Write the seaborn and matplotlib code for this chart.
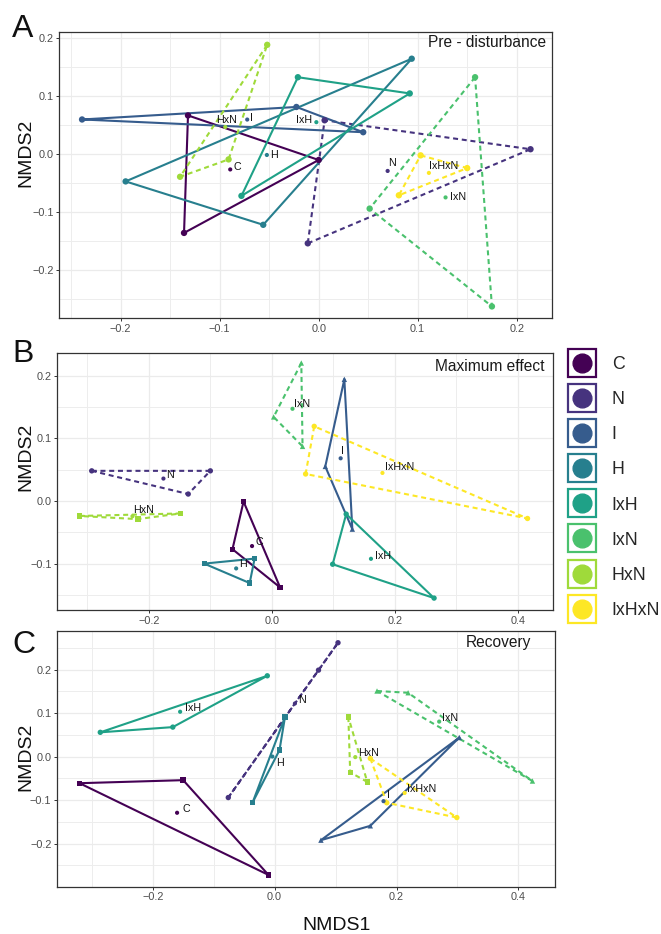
import pandas as pd
import seaborn as sns
from matplotlib import pyplot as plt
from matplotlib.lines import Line2D
from matplotlib.legend_handler import HandlerTuple
from matplotlib.ticker import FixedLocator, FuncFormatter

groups = ["C", "N", "I", "H", "IxH", "IxN", "HxN", "IxHxN"]
colours = ["#440154", "#46337E", "#365C8D", "#277F8E", "#1FA187", "#4AC16D", "#9FDA3A", "#FDE725"]
dashed_groups = ["N", "IxN", "HxN", "IxHxN"]
shapes_bc = {"C": "s", "H": "s", "HxN": "s", "I": "^", "IxN": "^",
             "N": "o", "IxH": "o", "IxHxN": "o"}

# A - pre-disturbance (3 replicates per treatment)
pre_x = {"C": [-0.132, -0.136, 0.000], "N": [-0.011, 0.214, 0.006],
         "I": [-0.239, -0.0225, 0.045], "H": [-0.195, -0.056, 0.094],
         "IxH": [-0.021, -0.078, 0.092], "IxN": [0.158, 0.0515, 0.175],
         "HxN": [-0.052, -0.140, -0.091], "IxHxN": [0.103, 0.150, 0.081]}
pre_y = {"C": [0.067, -0.136, -0.010], "N": [-0.154, 0.0086, 0.0586],
         "I": [0.060, 0.0816, 0.038], "H": [-0.047, -0.122, 0.165],
         "IxH": [0.133, -0.072, 0.105], "IxN": [0.133, -0.094, -0.263],
         "HxN": [0.189, -0.039, -0.009], "IxHxN": [-0.002, -0.024, -0.071]}

# B - maximum effect
max_x = {"C": [-0.046, -0.064, 0.0135], "N": [-0.293, -0.100, -0.136],
         "I": [0.118, 0.087, 0.131], "H": [-0.110, -0.028, -0.036],
         "IxH": [0.121, 0.099, 0.264], "IxN": [0.048, 0.003, 0.050],
         "HxN": [-0.313, -0.149, -0.218], "IxHxN": [0.069, 0.055, 0.416]}
max_y = {"C": [-0.001, -0.077, -0.138], "N": [0.048, 0.048, 0.011],
         "I": [0.194, 0.055, -0.045], "H": [-0.100, -0.092, -0.131],
         "IxH": [-0.021, -0.101, -0.155], "IxN": [0.220, 0.134, 0.087],
         "HxN": [-0.024, -0.020, -0.029], "IxHxN": [0.119, 0.043, -0.028]}

# C - recovery
rec_x = {"C": [-0.320, -0.150, -0.010], "N": [-0.076, 0.104, 0.072],
         "I": [0.303, 0.076, 0.157], "H": [0.017, 0.008, -0.036],
         "IxH": [-0.286, -0.167, -0.012], "IxN": [0.168, 0.219, 0.423],
         "HxN": [0.121, 0.124, 0.152], "IxHxN": [0.157, 0.184, 0.299]}
rec_y = {"C": [-0.061, -0.054, -0.272], "N": [-0.094, 0.262, 0.199],
         "I": [0.044, -0.192, -0.159], "H": [0.091, 0.015, -0.105],
         "IxH": [0.056, 0.068, 0.186], "IxN": [0.151, 0.147, -0.056],
         "HxN": [0.091, -0.036, -0.058], "IxHxN": [-0.004, -0.106, -0.140]}

pal = dict(zip(groups, colours))
dash_map = {g: ((2.4, 1.8) if g in dashed_groups else "") for g in groups}

sns.set_style("ticks")
plt.rcParams["font.family"] = ["Liberation Sans", "DejaVu Sans"]

W, H = 661, 934


def px_rect(l, t, r, b):
    return [l / W, 1 - b / H, (r - l) / W, (b - t) / H]


def make_df(xs, ys):
    rows = []
    for g in groups:
        for x, y in zip(xs[g], ys[g]):
            rows.append((g, x, y))
    return pd.DataFrame(rows, columns=["group", "NMDS1", "NMDS2"])


# label nudges in pixels (dx, dy, ha), default right of the centroid
lab_default = (3, 3, "left")
panels = [
    dict(letter="A", title="Pre - disturbance", xs=pre_x, ys=pre_y,
         rect=(59.3, 31.5, 552.3, 318), xlim=(-0.262, 0.236), ylim=(-0.283, 0.212),
         xmaj=[-0.2, -0.1, 0.0, 0.1, 0.2], xmin=[-0.25, -0.15, -0.05, 0.05, 0.15],
         ymaj=[-0.2, -0.1, 0.0, 0.1, 0.2], ymin=[-0.25, -0.15, -0.05, 0.05, 0.15],
         tpos=(0.867, 0.962), letter_y=37, ylab_y=152.5, shapes=None, vs=21,
         nudge={"C": (3, 2, "left"), "I": (3, 2, "left"), "H": (3, 0, "left"),
                "HxN": (1, 7, "center"), "IxH": (-4, 2, "right"), "N": (0, 8, "left"),
                "IxHxN": (0, 7, "left"), "IxN": (4, 0, "left")}),
    dict(letter="B", title="Maximum effect", xs=max_x, ys=max_y,
         rect=(57.3, 353, 552.7, 610), xlim=(-0.349, 0.457), ylim=(-0.174, 0.236),
         xmaj=[-0.2, 0.0, 0.2, 0.4], xmin=[-0.3, -0.1, 0.1, 0.3],
         ymaj=[-0.1, 0.0, 0.1, 0.2], ymin=[-0.15, -0.05, 0.05, 0.15],
         tpos=(0.873, 0.946), letter_y=362, ylab_y=456.7, shapes=shapes_bc, vs=15,
         nudge={"N": (3, 4, "left"), "HxN": (1, 6, "left"), "C": (3, 4, "left"),
                "H": (3, 4, "left"), "IxN": (1, 5, "left"), "I": (0, 7, "left"),
                "IxHxN": (3, 6, "left"), "IxH": (4, 3, "left")}),
    dict(letter="C", title="Recovery", xs=rec_x, ys=rec_y,
         rect=(57, 631, 555, 886.7), xlim=(-0.357, 0.46), ylim=(-0.299, 0.289),
         xmaj=[-0.2, 0.0, 0.2, 0.4], xmin=[-0.3, -0.1, 0.1, 0.3],
         ymaj=[-0.2, -0.1, 0.0, 0.1, 0.2], ymin=[-0.25, -0.15, -0.05, 0.05, 0.15, 0.25],
         tpos=(0.887, 0.954), letter_y=653, ylab_y=757, shapes=shapes_bc, vs=15,
         nudge={"IxH": (5, 4, "left"), "C": (5, 4, "left"), "H": (4, -6, "left"),
                "N": (3, 3, "left"), "IxN": (3, 4, "left"), "HxN": (3, 4, "left"),
                "I": (3, 6, "left"), "IxHxN": (2, 4, "left")}),
]

fig = plt.figure(figsize=(W / 100, H / 100), dpi=100)
fmt = FuncFormatter(lambda v, p: f"{v:.1f}".replace("-", "\u2212"))

for p in panels:
    ax = fig.add_axes(px_rect(*p["rect"]))
    df = make_df(p["xs"], p["ys"])
    cent = df.groupby("group", sort=False)[["NMDS1", "NMDS2"]].mean().reset_index()

    # closed hulls
    closed = pd.concat([pd.concat([g, g.iloc[:1]]) for _, g in df.groupby("group", sort=False)])
    sns.lineplot(data=closed, x="NMDS1", y="NMDS2", hue="group", style="group",
                 palette=pal, dashes=dash_map, sort=False, estimator=None,
                 linewidth=1.5, legend=False, ax=ax)

    markers = p["shapes"] if p["shapes"] else {g: "o" for g in groups}
    sns.scatterplot(data=df, x="NMDS1", y="NMDS2", hue="group", style="group",
                    palette=pal, markers=markers, s=p["vs"], linewidth=0,
                    legend=False, ax=ax, zorder=3)
    sns.scatterplot(data=cent, x="NMDS1", y="NMDS2", hue="group", palette=pal,
                    s=9, linewidth=0, legend=False, ax=ax, zorder=4)

    for _, r in cent.iterrows():
        dx, dy, ha = p["nudge"].get(r["group"], lab_default)
        ax.annotate(r["group"], (r["NMDS1"], r["NMDS2"]), xytext=(dx * 0.72, dy * 0.72),
                    textcoords="offset points", ha=ha, va="center", fontsize=7.7,
                    color="#111111", zorder=5)

    ax.set_xlim(*p["xlim"])
    ax.set_ylim(*p["ylim"])
    ax.xaxis.set_major_locator(FixedLocator(p["xmaj"]))
    ax.xaxis.set_minor_locator(FixedLocator(p["xmin"]))
    ax.yaxis.set_major_locator(FixedLocator(p["ymaj"]))
    ax.yaxis.set_minor_locator(FixedLocator(p["ymin"]))
    ax.xaxis.set_major_formatter(fmt)
    ax.yaxis.set_major_formatter(fmt)
    ax.grid(which="major", color="#EBEBEB", linewidth=0.9, zorder=0)
    ax.grid(which="minor", color="#EDEDED", linewidth=0.7, zorder=0)
    ax.set_axisbelow(True)
    ax.tick_params(which="major", length=2.5, width=0.7, color="#333333",
                   labelsize=7.8, labelcolor="#4D4D4D", pad=1.5)
    ax.tick_params(which="minor", length=0)
    for s in ax.spines.values():
        s.set_color("#333333")
        s.set_linewidth(0.9)
    ax.set_xlabel("")
    ax.set_ylabel("")
    ax.text(p["tpos"][0], p["tpos"][1], p["title"], transform=ax.transAxes,
            ha="center", va="center", fontsize=11.2, color="#1A1A1A")

    fig.text(12 / W, 1 - p["letter_y"] / H, p["letter"], fontsize=23,
             ha="left", va="baseline", color="#111111")
    fig.text(25.5 / W, 1 - p["ylab_y"] / H, "NMDS2", rotation=90, fontsize=14,
             ha="center", va="center", color="#111111")

fig.text(336.5 / W, 1 - 926 / H, "NMDS1", fontsize=14, ha="center", va="center",
         color="#111111")

# legend: coloured box with a filled dot, both drawn as centred markers
handles = [(Line2D([], [], marker="s", markersize=20.8, markerfacecolor="white",
                   markeredgecolor=c, markeredgewidth=1.6, linestyle="none"),
            Line2D([], [], marker="o", markersize=13.5, color=c, linestyle="none"))
           for c in colours]
leg = fig.legend(handles, groups, handler_map={tuple: HandlerTuple(ndivide=1)},
                 loc="upper left", bbox_to_anchor=(567.2 / W, 1 - 356 / H),
                 frameon=False, borderpad=0, borderaxespad=0, fontsize=12.8,
                 handlelength=1.72, handleheight=0.7, labelspacing=1.02,
                 handletextpad=0.78)

fig.savefig("out.png", dpi=100)
